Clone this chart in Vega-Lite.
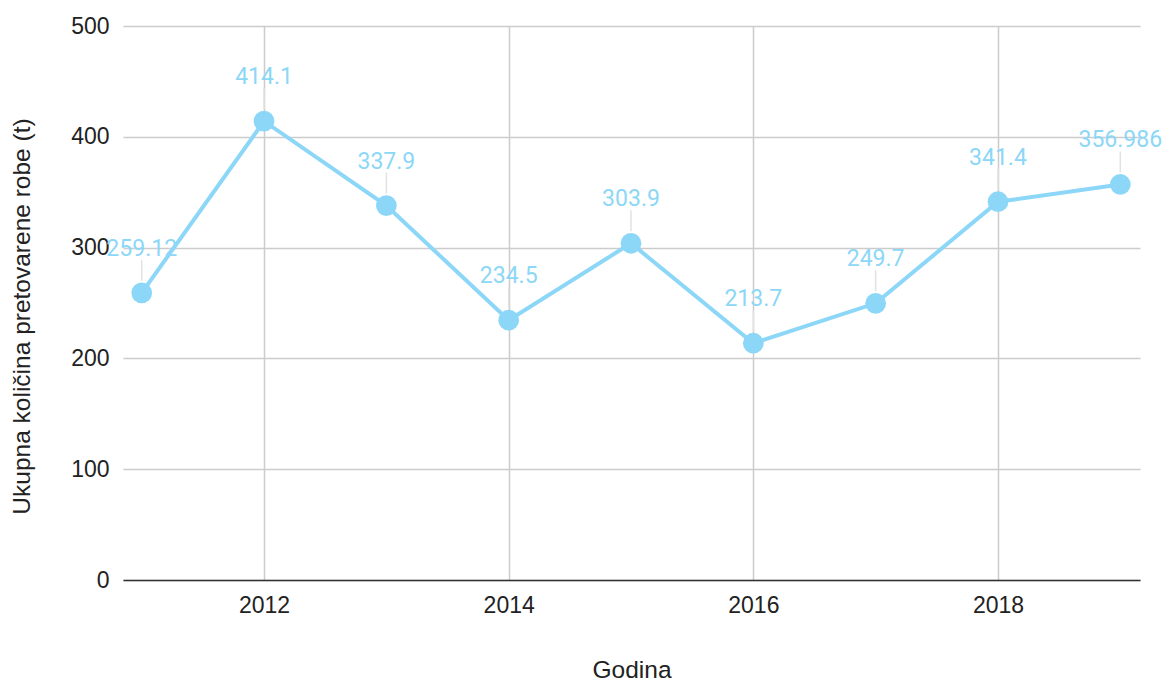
{
  "$schema": "https://vega.github.io/schema/vega-lite/v6.json",
  "width": 1017,
  "height": 554,
  "autosize": {"type": "none"},
  "padding": {"left": 123, "top": 26, "right": 25, "bottom": 99},
  "background": "white",
  "config": {
    "view": {"stroke": null},
    "axis": {"labelFont": "Liberation Sans", "titleFont": "Liberation Sans", "labelFontSize": 23, "titleFontSize": 24.5, "labelColor": "#222", "titleColor": "#222", "titleFontWeight": "normal", "gridColor": "#cccccc", "gridWidth": 1.5}
  },
  "data": {"values": [
    {"year": 2011, "value": 259.12, "label": "259.12"},
    {"year": 2012, "value": 414.1, "label": "414.1"},
    {"year": 2013, "value": 337.9, "label": "337.9"},
    {"year": 2014, "value": 234.5, "label": "234.5"},
    {"year": 2015, "value": 303.9, "label": "303.9"},
    {"year": 2016, "value": 213.7, "label": "213.7"},
    {"year": 2017, "value": 249.7, "label": "249.7"},
    {"year": 2018, "value": 341.4, "label": "341.4"},
    {"year": 2019, "value": 356.986, "label": "356.986"}
  ]},
  "encoding": {
    "x": {"field": "year", "type": "quantitative", "scale": {"domain": [2010.847, 2019.161], "nice": false, "zero": false},
      "axis": {"title": "Godina", "values": [2012, 2014, 2016, 2018], "format": "d", "ticks": false, "tickSize": 0, "labelPadding": 14, "domainColor": "#333", "domainWidth": 1.5, "titleY": 97, "titleBaseline": "alphabetic"}},
    "y": {"field": "value", "type": "quantitative", "scale": {"domain": [0, 500], "nice": false},
      "axis": {"title": "Ukupna količina pretovarene robe (t)", "values": [0, 100, 200, 300, 400, 500], "ticks": false, "tickSize": 0, "labelPadding": 14, "domain": false, "titleX": -94, "titleY": 290, "titleBaseline": "alphabetic"}}
  },
  "layer": [
    {"mark": {"type": "rule", "color": "#e2e2e2", "strokeWidth": 1.5, "yOffset": -12, "y2Offset": -33},
     "encoding": {"y2": {"field": "value"}}},
    {"mark": {"type": "line", "color": "#8cd7f7", "strokeWidth": 4}},
    {"mark": {"type": "point", "filled": true, "opacity": 1, "color": "#8cd7f7", "size": 430}},
    {"mark": {"type": "text", "font": "Roboto", "fontSize": 23, "color": "#8cd7f7", "baseline": "middle", "yOffset": -44},
     "encoding": {"text": {"field": "label", "type": "nominal"}}}
  ]
}
